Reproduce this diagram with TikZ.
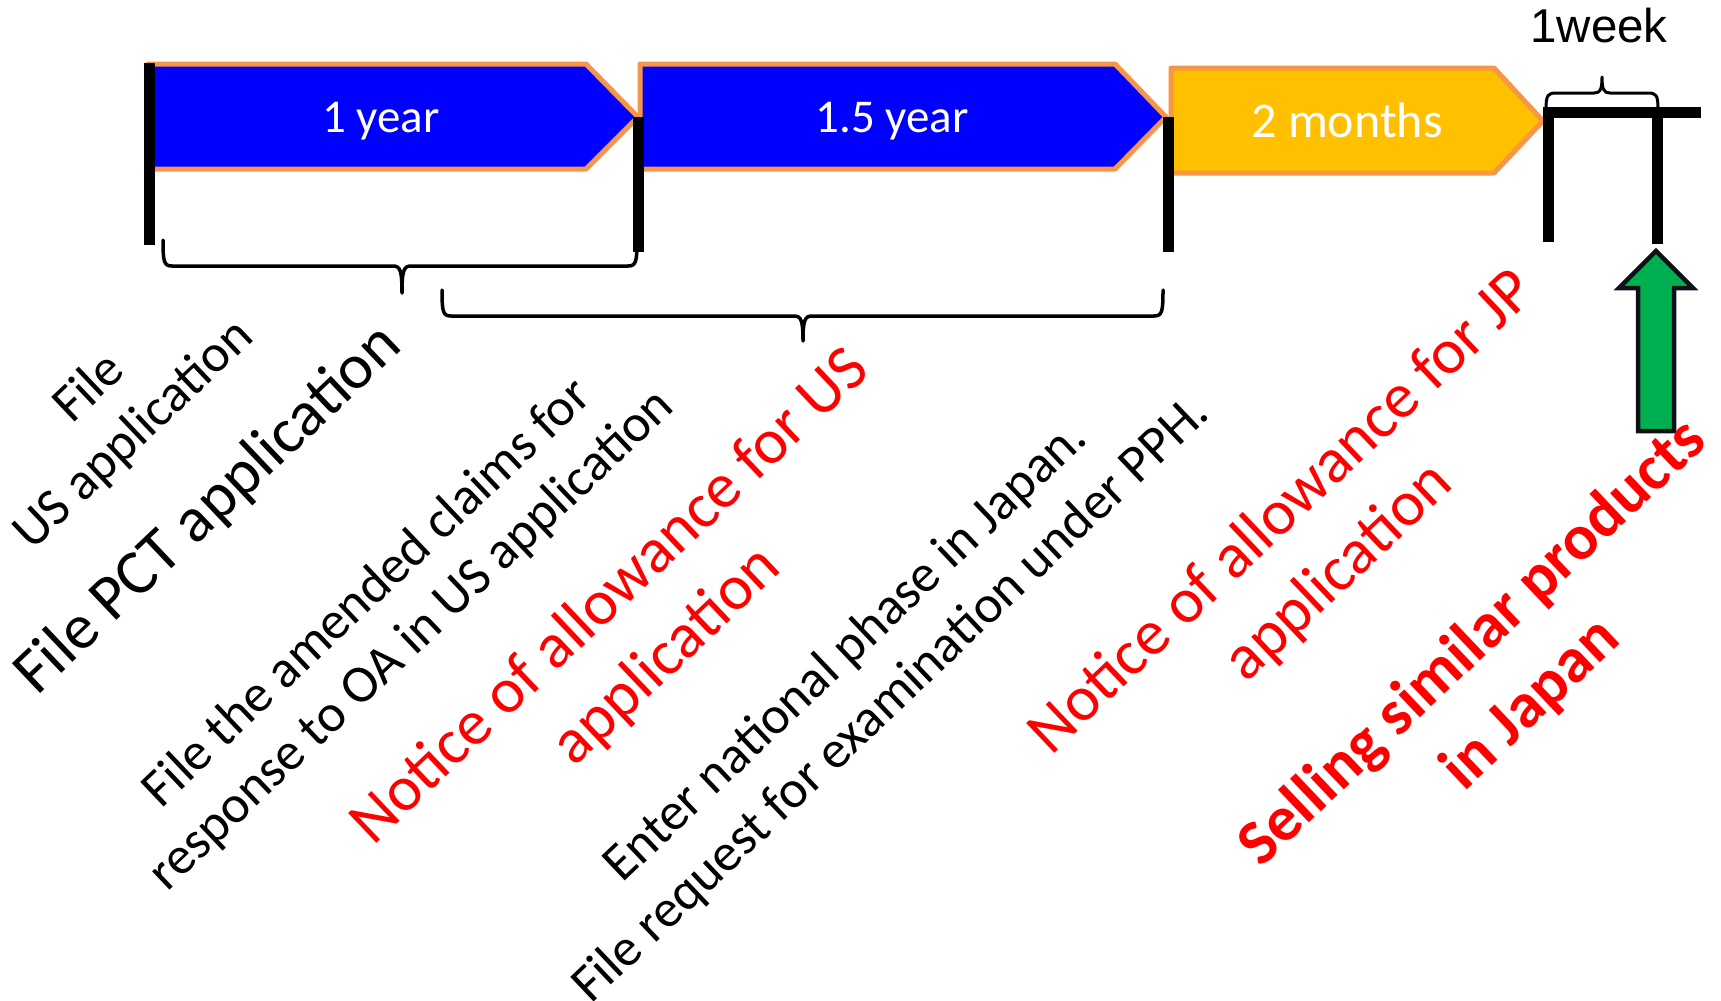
\documentclass[tikz,border=0pt]{standalone}
\usepackage{fontspec}
\setmainfont{Carlito}
\newfontfamily\arialfont{Liberation Sans}
\definecolor{stageblue}{HTML}{0000FF}
\definecolor{stageedge}{HTML}{F79646}
\definecolor{stagegold}{HTML}{FFC000}
\definecolor{sellgreen}{HTML}{00B050}
\definecolor{arrowedge}{HTML}{0D1117}
\definecolor{alertred}{HTML}{FF0000}

\tikzset{
  stage/.style={line width=5, draw=stageedge, line join=round},
  tick/.style={line width=11, line cap=butt},
  bracket/.style={line width=3.5, line join=round, line cap=round},
  stagetext/.style={inner sep=0, anchor=base, text=white},
  slant/.style={rotate=43.5, align=center, inner sep=0, anchor=center},
  plainlbl/.style={slant, font=\fontsize{53}{64}\selectfont},
  redlbl/.style={slant, text=alertred, font=\fontsize{64}{82}\selectfont},
}

\begin{document}
\begin{tikzpicture}[x=1pt,y=-1pt]
\useasboundingbox (0,0) rectangle (1721,1001);
\fill[white] (0,0) rectangle (1721,1001);

% period arrows
\draw[stage, fill=stageblue]
  (148,64) -- (586,64) -- (638,117) -- (586,169) -- (148,169) -- cycle;
\draw[stage, fill=stageblue]
  (640,64) -- (1115,64) -- (1166,117) -- (1115,169) -- (640,169) -- cycle;
\draw[stage, fill=stagegold]
  (1171,68) -- (1494,68) -- (1543,121) -- (1494,173) -- (1171,173) -- cycle;

\node[stagetext, font=\fontsize{47}{56}\selectfont] (oneyear) at (381,132) {1 year};
\node[stagetext, font=\fontsize{47}{56}\selectfont] (halfyear) at (892,132) {1.5 year};
\node[stagetext, font=\fontsize{50}{60}\selectfont] (twomonths) at (1347,137) {2 months};

% braces under the timeline
\draw[bracket]
  (163,240) .. controls (163,262) and (164,266) .. (172,266) -- (393,266)
  .. controls (400,266) and (402,270) .. (402,293)
  .. controls (402,270) and (404,266) .. (411,266) -- (628,266)
  .. controls (636,266) and (637,262) .. (637,240);
\draw[bracket]
  (442,290) .. controls (442,312) and (443,316) .. (451,316) -- (794,316)
  .. controls (801,316) and (803,320) .. (803,341)
  .. controls (803,320) and (805,316) .. (812,316) -- (1154,316)
  .. controls (1162,316) and (1163,312) .. (1163,290);

% one-week brace
\draw[bracket, line width=3]
  (1546,109) .. controls (1546,95) and (1548,93) .. (1556,93) -- (1594,93)
  .. controls (1600,93) and (1602,90) .. (1602,77)
  .. controls (1602,90) and (1604,93) .. (1610,93) -- (1648,93)
  .. controls (1656,93) and (1658,95) .. (1658,109);
\node[inner sep=0, anchor=base, font=\arialfont\fontsize{47.5}{57}\selectfont] (week) at (1599,42) {1week};

% milestone ticks
\draw[tick] (149,63) -- (149,245);
\draw[tick] (638,117) -- (638,252);
\draw[tick] (1168,117) -- (1168,252);
\draw[tick, line join=miter] (1548,242) -- (1548,112.5) -- (1701,112.5);
\draw[tick] (1657,112.5) -- (1657,244);

% up arrow marking the sale
\draw[line width=4.5, draw=arrowedge, fill=sellgreen, line join=miter]
  (1656,251) -- (1693,288) -- (1674,288) -- (1674,431) -- (1638,431)
  -- (1638,288) -- (1619,288) -- cycle;

% event labels
\node[plainlbl] (fileus) at (112,412) {File\\US application};
\node[slant, font=\fontsize{64}{78}\selectfont] (filepct) at (209,510) {File PCT application};
\node[plainlbl] (amend) at (390,617) {File the amended claims for\\response to OA in US application};
\node[redlbl] (noticeus) at (639,627) {Notice of allowance for US\\application};
\node[plainlbl, font=\fontsize{53}{66}\selectfont] (enter) at (869,676) {Enter national phase in Japan.\\File request for examination under PPH.};
\node[redlbl] (noticejp) at (1311,543) {Notice of allowance for JP\\application};
\node[slant, text=alertred, font=\bfseries\fontsize{64}{84}\selectfont] (selling) at (1502,674) {Selling similar products\\in Japan};
\end{tikzpicture}
\end{document}
